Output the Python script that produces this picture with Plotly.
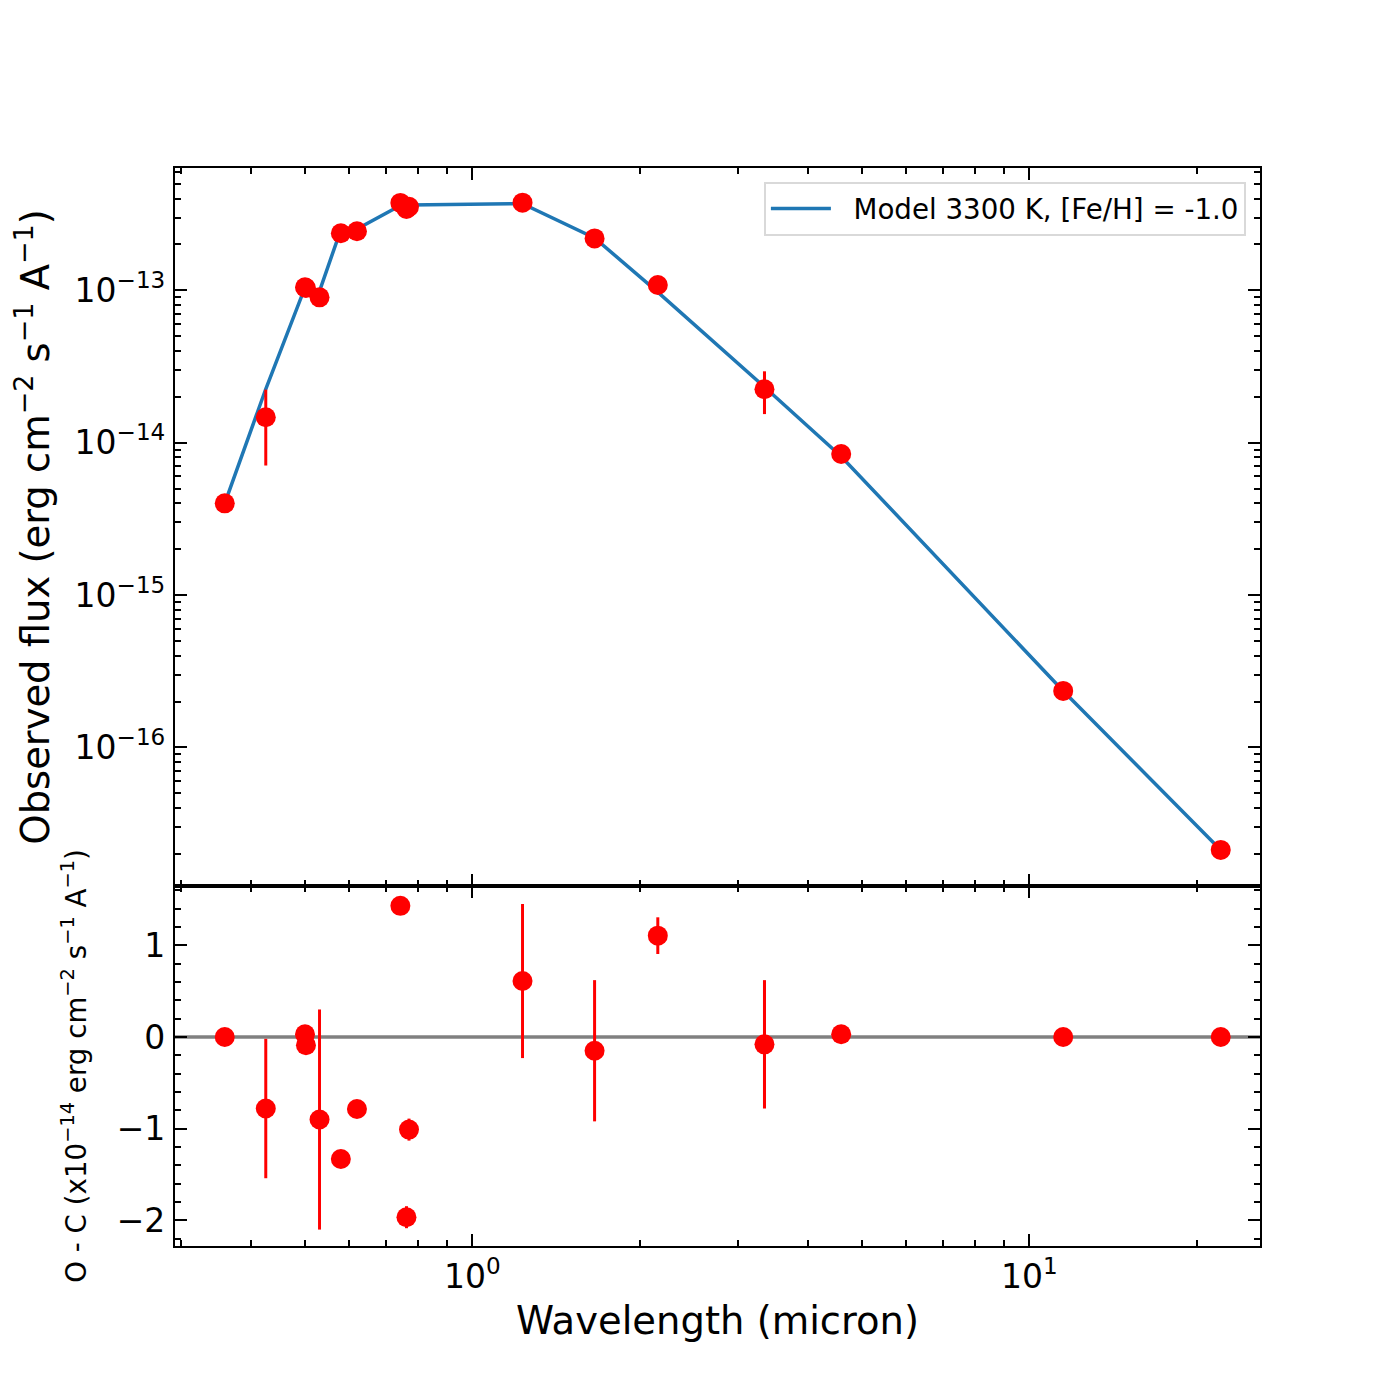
import plotly.graph_objects as go
from plotly.subplots import make_subplots

# photometry, wavelength in micron, flux in erg cm-2 s-1 A-1
wave = [0.3596, 0.426, 0.501, 0.503, 0.532, 0.581, 0.621, 0.743, 0.762, 0.770,
        1.231, 1.658, 2.153, 3.346, 4.594, 11.5, 22.05]
flux_obs = [4.00e-15, 1.468e-14, 1.047e-13, 1.035e-13, 8.99e-14, 2.366e-13, 2.44e-13,
            3.743e-13, 3.42e-13, 3.53e-13, 3.76e-13, 2.19e-13, 1.083e-13, 2.24e-14,
            8.42e-15, 2.348e-16, 2.125e-17]
flux_model = [4.00e-15, 2.25e-14, 1.044e-13, 1.044e-13, 9.89e-14, 2.50e-13, 2.52e-13,
              3.60e-13, 3.62e-13, 3.63e-13, 3.70e-13, 2.205e-13, 9.725e-14, 2.32e-14,
              8.12e-15, 2.348e-16, 2.125e-17]
# O - C and errors in units of 1e-14
resid = [0.0, -0.78, 0.03, -0.09, -0.90, -1.33, -0.785, 1.43, -1.965, -1.01,
         0.61, -0.15, 1.105, -0.08, 0.03, 0.0, 0.0]
err = [0, 0.76, 0, 0, 1.2, 0, 0, 0, 0.12, 0.12, 0.84, 0.77, 0.2, 0.7, 0, 0, 0]

model_name = 'Model 3300 K, [Fe/H] = -1.0'
x_tickvals = [1, 10]
x_ticktext = ['10<sup>0</sup>', '10<sup>1</sup>']
y_tickvals = [1e-16, 1e-15, 1e-14, 1e-13]
y_ticktext = ['10<sup>−16</sup>', '10<sup>−15</sup>', '10<sup>−14</sup>', '10<sup>−13</sup>']

RED = '#ff0000'
BLUE = '#1f77b4'
FONT = 'DejaVu Sans'

fig = make_subplots(rows=2, cols=1, shared_xaxes=True, vertical_spacing=0,
                    row_heights=[0.666, 0.334])

# nbsp keeps the gap between legend line and label
fig.add_trace(go.Scatter(x=wave, y=flux_model, mode='lines',
                         name='\u00a0\u00a0' + model_name,
                         line=dict(color=BLUE, width=3.5)), row=1, col=1)
fig.add_trace(go.Scatter(x=wave, y=flux_obs, mode='markers', showlegend=False,
                         marker=dict(color=RED, size=20),
                         error_y=dict(type='data', array=[e * 1e-14 for e in err],
                                      color=RED, thickness=3, width=0)),
              row=1, col=1)
fig.add_trace(go.Scatter(x=wave, y=resid, mode='markers', showlegend=False,
                         marker=dict(color=RED, size=20),
                         error_y=dict(type='data', array=err, color=RED,
                                      thickness=3, width=0)),
              row=2, col=1)

fig.add_shape(type='line', xref='x2 domain', yref='y2', x0=0, x1=1, y0=0, y1=0,
              line=dict(color='#808080', width=3.5), layer='below')

x_minor = [m * 0.1 for m in range(3, 10)] + list(range(2, 10)) + [20]
y_minor = [m * 10.0 ** p for p in range(-17, -12) for m in range(2, 10)]

base = dict(showline=True, linecolor='black', linewidth=2.2, mirror='ticks',
            ticks='inside', ticklen=12, tickwidth=2.2, tickcolor='black',
            showgrid=False, zeroline=False,
            tickfont=dict(family=FONT, size=33, color='black'))
minor_log = lambda vals: dict(ticks='inside', ticklen=6, tickwidth=1.7,
                              tickcolor='black', tickmode='array', tickvals=vals,
                              showgrid=False)

fig.update_xaxes(base, type='log', range=[-0.5335, 1.4139], tickmode='array',
                 tickvals=x_tickvals, ticktext=x_ticktext, minor=minor_log(x_minor),
                 ticklabelstandoff=0)
fig.update_xaxes(title=dict(text='Wavelength (micron)', standoff=12,
                            font=dict(family=FONT, size=38.5, color='black')),
                 row=2, col=1)
fig.update_yaxes(base, type='log', range=[-16.909, -12.1975], tickmode='array',
                 tickvals=y_tickvals, ticktext=y_ticktext, minor=minor_log(y_minor),
                 ticklabelstandoff=1,
                 title=dict(text='Observed flux (erg cm<sup>−2</sup> s<sup>−1</sup> A<sup>−1</sup>)',
                            standoff=20, font=dict(family=FONT, size=38.5, color='black')),
                 row=1, col=1)
fig.update_yaxes(base, range=[-2.279, 1.647], dtick=1, ticklabelstandoff=1,
                 minor=dict(ticks='inside', ticklen=6, tickwidth=1.7, tickcolor='black',
                            dtick=0.2, showgrid=False),
                 title=dict(text='O - C (x10<sup>−14</sup> erg cm<sup>−2</sup> s<sup>−1</sup> A<sup>−1</sup>)',
                            standoff=22, font=dict(family=FONT, size=27.7, color='black')),
                 row=2, col=1)

fig.update_layout(
    width=1392, height=1392,
    margin=dict(l=167, r=140, t=160, b=154, autoexpand=False),
    paper_bgcolor='white', plot_bgcolor='white',
    font=dict(family=FONT, color='black'),
    legend=dict(x=0.987, y=0.987, xanchor='right', yanchor='top',
                bgcolor='white', bordercolor='#d9d9d9', borderwidth=2,
                itemwidth=60,
                font=dict(family=FONT, size=27.7, color='black')),
)

fig.write_html('out.html')
